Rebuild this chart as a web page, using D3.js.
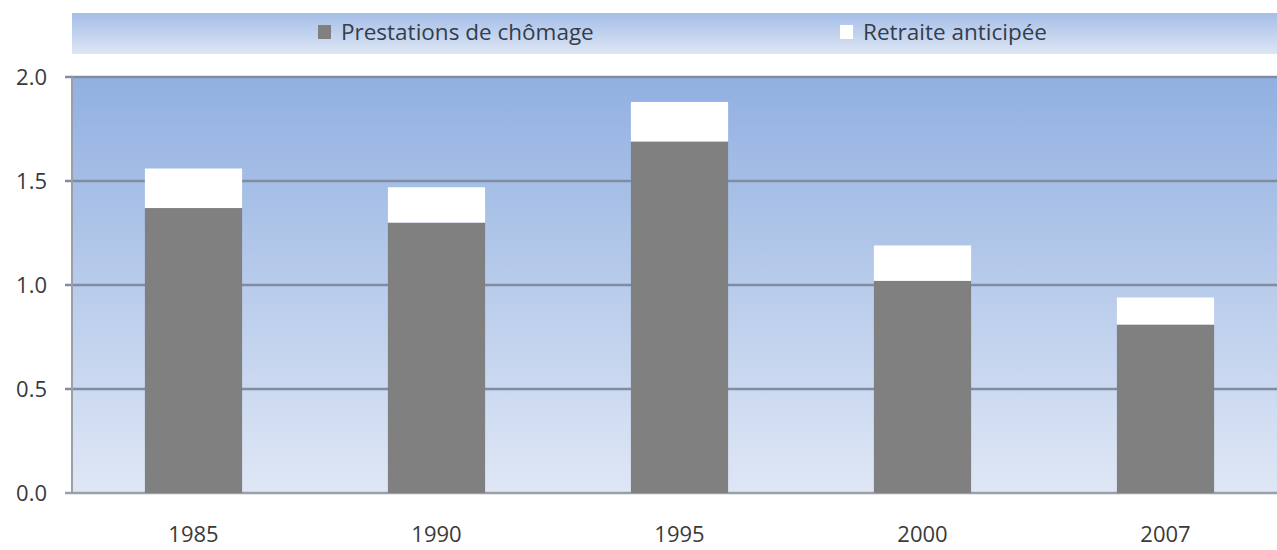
<!DOCTYPE html>
<html>
<head>
<meta charset="utf-8">
<script src="https://cdn.jsdelivr.net/npm/d3@7"></script>
<style>
  body { margin: 0; background: #fff; }
  svg { display: block; font-family: "Open Sans", "DejaVu Sans", sans-serif; }
</style>
</head>
<body>
<div id="chart"></div>
<script>
var years = ["1985", "1990", "1995", "2000", "2007"];
var chomage = [1.37, 1.30, 1.69, 1.02, 0.81];
var retraite = [0.19, 0.17, 0.19, 0.17, 0.13];
var series_names = ["Prestations de chômage", "Retraite anticipée"];
var series_colors = ["#808080", "#ffffff"];
var y_ticks = [0, 0.5, 1.0, 1.5, 2.0];

var total_w = 1277, total_h = 550;
var margin = {top: 77, right: 0, bottom: 57, left: 72};
var plot_h = total_h - margin.top - margin.bottom;

var svg = d3.select("#chart").append("svg")
    .attr("width", total_w)
    .attr("height", total_h);

var defs = svg.append("defs");
var plot_grad = defs.append("linearGradient")
    .attr("id", "plotGrad").attr("x1", 0).attr("y1", 0).attr("x2", 0).attr("y2", 1);
plot_grad.append("stop").attr("offset", "0%").attr("stop-color", "#91b0e1");
plot_grad.append("stop").attr("offset", "100%").attr("stop-color", "#dfe7f5");

var legend_grad = defs.append("linearGradient")
    .attr("id", "legendGrad").attr("x1", 0).attr("y1", 0).attr("x2", 0).attr("y2", 1);
legend_grad.append("stop").attr("offset", "0%").attr("stop-color", "#a6bee8");
legend_grad.append("stop").attr("offset", "100%").attr("stop-color", "#dde6f4");

var xscale = d3.scaleBand()
    .domain(years)
    .range([margin.left, margin.left + 243 * 5])
    .paddingInner(0.6)
    .paddingOuter(0.3);

var yscale = d3.scaleLinear()
    .domain([0, 2])
    .range([margin.top + plot_h, margin.top]);

// legend band
svg.append("rect")
    .attr("x", margin.left).attr("y", 13)
    .attr("width", total_w - margin.left).attr("height", 41)
    .attr("fill", "url(#legendGrad)");

var legend_x = [318, 840];
series_names.forEach(function(name, i) {
    svg.append("rect")
        .attr("x", legend_x[i]).attr("y", 25)
        .attr("width", 13).attr("height", 14)
        .attr("fill", series_colors[i]);
    svg.append("text")
        .attr("x", legend_x[i] + 23).attr("y", 40)
        .attr("font-size", 22.5)
        .attr("fill", "#343d4b")
        .text(name);
});

// plot background
svg.append("rect")
    .attr("x", margin.left).attr("y", margin.top)
    .attr("width", total_w - margin.left).attr("height", plot_h)
    .attr("fill", "url(#plotGrad)");

// grid lines
svg.append("g")
    .selectAll("line")
    .data(y_ticks)
    .enter()
    .append("line")
    .attr("x1", 65).attr("x2", total_w)
    .attr("y1", function(d) { return yscale(d); })
    .attr("y2", function(d) { return yscale(d); })
    .attr("stroke", function(d) { return d == 0 ? "#9a9fa8" : "#7f8ca3"; })
    .attr("stroke-width", 2.5);

// axis line
svg.append("line")
    .attr("x1", margin.left).attr("x2", margin.left)
    .attr("y1", margin.top).attr("y2", margin.top + plot_h)
    .attr("stroke", "#9a9fa8")
    .attr("stroke-width", 2);

// stacked bars
var stack_data = years.map(function(y, i) {
    return {year: y, chomage: chomage[i], retraite: retraite[i]};
});
var stacked = d3.stack().keys(["chomage", "retraite"])(stack_data);

svg.append("g")
    .selectAll("g")
    .data(stacked)
    .enter()
    .append("g")
    .attr("fill", function(d, i) { return series_colors[i]; })
    .selectAll("rect")
    .data(function(d) { return d; })
    .enter()
    .append("rect")
    .attr("x", function(d) { return xscale(d.data.year); })
    .attr("y", function(d) { return yscale(d[1]); })
    .attr("width", xscale.bandwidth())
    .attr("height", function(d) { return yscale(d[0]) - yscale(d[1]); });

// y tick labels
svg.append("g")
    .selectAll("text")
    .data(y_ticks)
    .enter()
    .append("text")
    .attr("x", 47)
    .attr("y", function(d) { return yscale(d) + 8; })
    .attr("text-anchor", "end")
    .attr("font-size", 22)
    .attr("fill", "#3a3a3a")
    .text(function(d) { return d3.format(".1f")(d); });

// x labels
svg.append("g")
    .selectAll("text")
    .data(years)
    .enter()
    .append("text")
    .attr("x", function(d) { return xscale(d) + xscale.bandwidth() / 2; })
    .attr("y", 542)
    .attr("text-anchor", "middle")
    .attr("font-size", 22)
    .attr("fill", "#3a3a3a")
    .text(function(d) { return d; });
</script>
</body>
</html>
